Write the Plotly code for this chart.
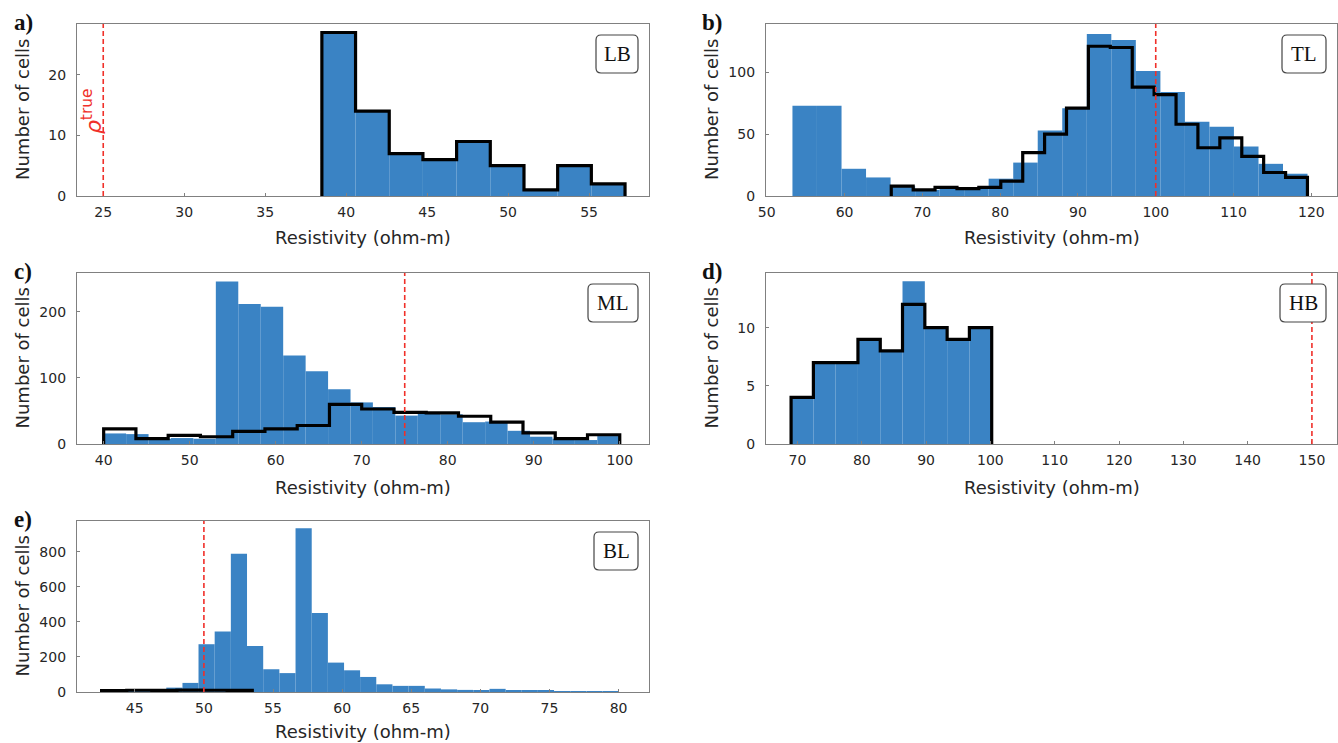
import plotly.graph_objects as go

# ---------------- data ----------------
LB_blue_edges = [38.5, 40.58, 42.66, 44.74, 46.82, 48.9, 50.98, 53.06, 55.14, 57.22]
LB_blue_counts = [27, 14, 7, 6, 9, 5, 1, 5, 2]
LB_black_edges = [38.5, 40.58, 42.66, 44.74, 46.82, 48.9, 50.98, 53.06, 55.14, 57.22]
LB_black_counts = [27, 14, 7, 6, 9, 5, 1, 5, 2]

TL_blue_edges = [53.3, 56.45, 59.61, 62.76, 65.91, 69.07, 72.22, 75.37, 78.52, 81.68, 84.83,
                 87.98, 91.14, 94.29, 97.44, 100.6, 103.75, 106.9, 110.05, 113.21, 116.36, 119.51]
TL_blue_counts = [73, 73, 22, 15, 8, 5, 7, 6, 14, 27, 53, 71, 131, 126, 101, 84, 60, 56, 40, 26, 18]
TL_black_edges = [66.0, 68.82, 71.63, 74.45, 77.26, 80.08, 82.9, 85.71, 88.53, 91.34, 94.16,
                  96.98, 99.79, 102.61, 105.42, 108.24, 111.06, 113.87, 116.69, 119.5]
TL_black_counts = [8, 5, 7, 6, 7, 12, 35, 50, 71, 121, 120, 88, 82, 58, 39, 47, 32, 19, 15]

ML_blue_edges = [40.0, 42.61, 45.22, 47.83, 50.43, 53.04, 55.65, 58.26, 60.87, 63.48, 66.09, 68.7,
                 71.3, 73.91, 76.52, 79.13, 81.74, 84.35, 86.96, 89.57, 92.17, 94.78, 97.39, 100.0]
ML_blue_counts = [16, 15, 8, 9, 8, 246, 212, 208, 134, 110, 83, 63, 56, 43, 46, 45, 33, 34, 20, 11, 8, 6, 12]
ML_black_edges = [40.0, 43.75, 47.5, 51.25, 55.0, 58.75, 62.5, 66.25, 70.0, 73.75, 77.5, 81.25,
                  85.0, 88.75, 92.5, 96.25, 100.0]
ML_black_counts = [23, 8, 13, 11, 19, 23, 28, 60, 53, 48, 47, 42, 33, 17, 8, 14]

HB_blue_edges = [69.0, 72.47, 75.93, 79.4, 82.87, 86.33, 89.8, 93.27, 96.73, 100.2]
HB_blue_counts = [4, 7, 7, 9, 8, 14, 10, 9, 10]
HB_black_edges = [69.0, 72.47, 75.93, 79.4, 82.87, 86.33, 89.8, 93.27, 96.73, 100.2]
HB_black_counts = [4, 7, 7, 9, 8, 12, 10, 9, 10]

BL_blue_edges = [42.6, 43.77, 44.94, 46.11, 47.28, 48.45, 49.61, 50.78, 51.95, 53.12, 54.29, 55.46,
                 56.63, 57.8, 58.97, 60.14, 61.3, 62.47, 63.64, 64.81, 65.98, 67.15, 68.32, 69.49,
                 70.66, 71.83, 72.99, 74.16, 75.33, 76.5, 77.67, 78.84, 80.01]
BL_blue_counts = [2, 5, 12, 15, 25, 52, 273, 345, 790, 263, 130, 108, 935, 451, 168, 124, 86, 44,
                  35, 35, 20, 15, 12, 10, 18, 10, 6, 6, 3, 2, 1, 4]
BL_black_edges = [42.6, 44.42, 46.23, 48.05, 49.87, 51.68, 53.5]
BL_black_counts = [8, 10, 9, 11, 10, 9]

TRUE_RHO = {"LB": 25, "TL": 100, "ML": 75, "HB": 150, "BL": 50}
PANEL_LETTERS = ["a)", "b)", "c)", "d)", "e)"]
LAYER_NAMES = ["LB", "TL", "ML", "HB", "BL"]
X_TICKS = {
    "LB": [25, 30, 35, 40, 45, 50, 55],
    "TL": [50, 60, 70, 80, 90, 100, 110, 120],
    "ML": [40, 50, 60, 70, 80, 90, 100],
    "HB": [70, 80, 90, 100, 110, 120, 130, 140, 150],
    "BL": [45, 50, 55, 60, 65, 70, 75, 80],
}
Y_TICKS = {
    "LB": [0, 10, 20],
    "TL": [0, 50, 100],
    "ML": [0, 100, 200],
    "HB": [0, 5, 10],
    "BL": [0, 200, 400, 600, 800],
}
X_LABEL = "Resistivity (ohm-m)"
Y_LABEL = "Number of cells"

# ---------------- layout / style ----------------
W, H = 1338, 743
BLUE = "#3a83c4"
RED = "#f0302a"
FRAME = "#808080"
TXT = "#262626"

X_RANGES = {"LB": [23.38, 58.7], "TL": [49.9, 123.3], "ML": [36.9, 103.4],
            "HB": [65.1, 153.9], "BL": [40.82, 82.2]}
Y_RANGES = {"LB": [0, 28.4], "TL": [0, 139], "ML": [0, 259], "HB": [0, 14.7], "BL": [0, 977]}

COLS = [(77, 649), (766, 1337)]
ROWS = [(24, 196), (273, 444), (521, 692)]
XTITLE_Y = [237, 487, 731]
POS = {"LB": (0, 0), "TL": (1, 0), "ML": (0, 1), "HB": (1, 1), "BL": (0, 2)}
BOX_W = {"LB": 42, "TL": 44, "ML": 50, "HB": 46, "BL": 44}

data = {
    "LB": (LB_blue_edges, LB_blue_counts, LB_black_edges, LB_black_counts),
    "TL": (TL_blue_edges, TL_blue_counts, TL_black_edges, TL_black_counts),
    "ML": (ML_blue_edges, ML_blue_counts, ML_black_edges, ML_black_counts),
    "HB": (HB_blue_edges, HB_blue_counts, HB_black_edges, HB_black_counts),
    "BL": (BL_blue_edges, BL_blue_counts, BL_black_edges, BL_black_counts),
}


def fx(px):
    return px / W


def fy(py):
    return 1 - py / H


fig = go.Figure()
layout = dict(
    width=W, height=H, autosize=False,
    margin=dict(l=0, r=0, t=0, b=0, pad=0),
    paper_bgcolor="white", plot_bgcolor="white",
    showlegend=False, barmode="overlay",
    font=dict(family="DejaVu Sans", color=TXT),
)
annotations = []
shapes = []

for i, name in enumerate(LAYER_NAMES):
    k = i + 1
    xa = "x" if k == 1 else f"x{k}"
    ya = "y" if k == 1 else f"y{k}"
    col, row = POS[name]
    x0p, x1p = COLS[col]
    y0p, y1p = ROWS[row]
    be, bc, ke, kc = data[name]

    centers = [(be[j] + be[j + 1]) / 2 for j in range(len(bc))]
    widths = [be[j + 1] - be[j] for j in range(len(bc))]
    fig.add_trace(go.Bar(x=centers, y=bc, width=widths, marker=dict(color=BLUE, line=dict(width=0)),
                         xaxis=xa, yaxis=ya, hoverinfo="skip"))
    fig.add_trace(go.Scatter(x=[ke[0]] + ke, y=[0] + kc + [0], mode="lines",
                             line=dict(color="black", width=3.2, shape="hv"),
                             xaxis=xa, yaxis=ya, hoverinfo="skip"))

    axcommon = dict(showline=True, mirror=True, linecolor=FRAME, linewidth=1.3, automargin=False,
                    ticks="inside", ticklen=3, tickcolor=FRAME, showgrid=False, zeroline=False,
                    tickfont=dict(family="DejaVu Sans", size=14, color=TXT))
    layout["xaxis" if k == 1 else f"xaxis{k}"] = dict(
        domain=[fx(x0p), fx(x1p)], anchor=ya, range=X_RANGES[name],
        tickmode="array", tickvals=X_TICKS[name], ticklabelstandoff=3, **axcommon)
    layout["yaxis" if k == 1 else f"yaxis{k}"] = dict(
        domain=[fy(y1p), fy(y0p)], anchor=xa, range=Y_RANGES[name],
        tickmode="array", tickvals=Y_TICKS[name], ticklabelstandoff=7, **axcommon)

    # true resistivity line
    shapes.append(dict(type="line", xref=xa, yref=f"{ya} domain", x0=TRUE_RHO[name], x1=TRUE_RHO[name],
                       y0=0, y1=1, line=dict(color=RED, width=1.6, dash="5px,3px"), layer="above"))

    # axis titles
    annotations.append(dict(text=X_LABEL, xref="paper", yref="paper", x=fx((x0p + x1p) / 2),
                            y=fy(XTITLE_Y[row]), showarrow=False, font=dict(size=18, color=TXT),
                            xanchor="center", yanchor="middle"))
    annotations.append(dict(text=Y_LABEL, xref="paper", yref="paper", x=fx(x0p - 55),
                            y=fy((y0p + y1p) / 2), showarrow=False, textangle=-90,
                            font=dict(size=18, color=TXT), xanchor="center", yanchor="middle"))
    # panel letter
    annotations.append(dict(text=f"<b>{PANEL_LETTERS[i]}</b>", xref="paper", yref="paper",
                            x=fx(x0p - 54), y=fy(y0p - 2), showarrow=False,
                            font=dict(family="Liberation Serif", size=23, color="#111"),
                            xanchor="center", yanchor="middle"))
    # layer name box (rounded)
    bw, bh, r = BOX_W[name], 38, 5
    bx1 = x1p - 11
    bx0 = bx1 - bw
    by0 = y0p + 11
    by1 = by0 + bh
    X0, X1, Y0, Y1 = fx(bx0), fx(bx1), fy(by0), fy(by1)
    rx, ry = r / W, r / H
    path = (f"M {X0 + rx},{Y0} L {X1 - rx},{Y0} Q {X1},{Y0} {X1},{Y0 - ry} "
            f"L {X1},{Y1 + ry} Q {X1},{Y1} {X1 - rx},{Y1} L {X0 + rx},{Y1} "
            f"Q {X0},{Y1} {X0},{Y1 + ry} L {X0},{Y0 - ry} Q {X0},{Y0} {X0 + rx},{Y0} Z")
    shapes.append(dict(type="path", xref="paper", yref="paper", path=path,
                       line=dict(color="#444", width=1.2), fillcolor="white", layer="above"))
    annotations.append(dict(text=name, xref="paper", yref="paper", x=fx((bx0 + bx1) / 2),
                            y=fy((by0 + by1) / 2), showarrow=False,
                            font=dict(family="Liberation Serif", size=21, color="#111"),
                            xanchor="center", yanchor="middle"))

# rho^true label in panel a
annotations.append(dict(text="<i>ρ</i><sup>true</sup>", xref="x", yref="y", x=24.3, y=14.0,
                        showarrow=False, textangle=-90, font=dict(size=22, color=RED),
                        xanchor="center", yanchor="middle"))

layout["annotations"] = annotations
layout["shapes"] = shapes
fig.update_layout(**layout)

fig.write_html("out.html", config={"displayModeBar": False},
               post_script="document.body.style.margin='0';document.body.style.overflow='hidden';")
